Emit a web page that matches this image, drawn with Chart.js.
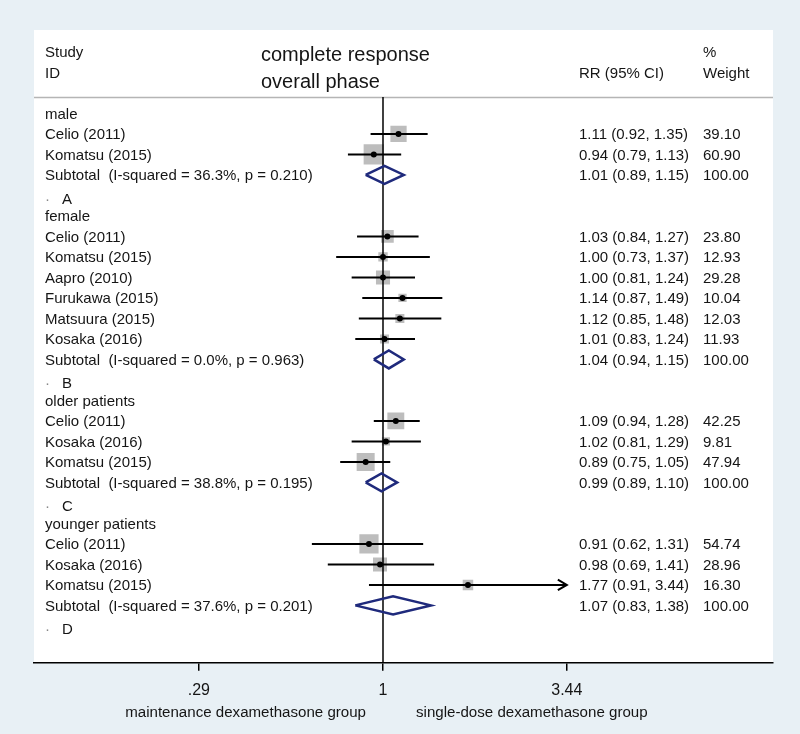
<!DOCTYPE html>
<html>
<head>
<meta charset="utf-8">
<title>Forest plot - complete response</title>
<script src="https://cdn.jsdelivr.net/npm/chart.js@4.4.0/dist/chart.umd.min.js"></script>
<style>
  html, body { margin: 0; padding: 0; background: #e8f0f5; }
  #wrap { width: 800px; height: 734px; }
</style>
</head>
<body>
<div id="wrap"><canvas id="forest" width="800" height="734"></canvas></div>
<script>
// --- Dados do gráfico ---
const rowLabels = [
  'male', 'Celio (2011)', 'Komatsu (2015)', 'Subtotal  (I-squared = 36.3%, p = 0.210)', 'A',
  'female', 'Celio (2011)', 'Komatsu (2015)', 'Aapro (2010)', 'Furukawa (2015)', 'Matsuura (2015)', 'Kosaka (2016)',
  'Subtotal  (I-squared = 0.0%, p = 0.963)', 'B',
  'older patients', 'Celio (2011)', 'Kosaka (2016)', 'Komatsu (2015)', 'Subtotal  (I-squared = 38.8%, p = 0.195)', 'C',
  'younger patients', 'Celio (2011)', 'Kosaka (2016)', 'Komatsu (2015)', 'Subtotal  (I-squared = 37.6%, p = 0.201)', 'D'
];
const rowKind = [
  'group', 'study', 'study', 'subtotal', 'tag',
  'group', 'study', 'study', 'study', 'study', 'study', 'study', 'subtotal', 'tag',
  'group', 'study', 'study', 'study', 'subtotal', 'tag',
  'group', 'study', 'study', 'study', 'subtotal', 'tag'
];
const rr = [
  null, 1.11, 0.94, 1.01, null,
  null, 1.03, 1.00, 1.00, 1.14, 1.12, 1.01, 1.04, null,
  null, 1.09, 1.02, 0.89, 0.99, null,
  null, 0.91, 0.98, 1.77, 1.07, null
];
const ciLow = [
  null, 0.92, 0.79, 0.89, null,
  null, 0.84, 0.73, 0.81, 0.87, 0.85, 0.83, 0.94, null,
  null, 0.94, 0.81, 0.75, 0.89, null,
  null, 0.62, 0.69, 0.91, 0.83, null
];
const ciHigh = [
  null, 1.35, 1.13, 1.15, null,
  null, 1.27, 1.37, 1.24, 1.49, 1.48, 1.24, 1.15, null,
  null, 1.28, 1.29, 1.05, 1.10, null,
  null, 1.31, 1.41, 3.44, 1.38, null
];
const weights = [
  null, 39.10, 60.90, 100.00, null,
  null, 23.80, 12.93, 29.28, 10.04, 12.03, 11.93, 100.00, null,
  null, 42.25, 9.81, 47.94, 100.00, null,
  null, 54.74, 28.96, 16.30, 100.00, null
];
const tickValues = [0.29, 1, 3.44];
const tickLabels = ['.29', '1', '3.44'];

// --- Aparência ---
const FONT = "'Liberation Sans', Arial, sans-serif";
const NARROW = "'Liberation Sans Narrow', 'Arial Narrow', 'Liberation Sans', Arial, sans-serif";
const TEXT = '#151515';
const SQUARE = '#bdbdbd';
const NAVY = '#1f2a7c';

// faixa do eixo log (0.29 -> x=198, 1 -> x=383, 3.44 -> x=566)
const X_MIN = 0.0958, X_MAX = 13.75;
const Y_MIN = -4.07, Y_MAX = 26.8;
const SEP_ROW = -0.8;
const TEXT_SHIFT = 1; // px, centra o texto na linha

// --- Montagem dos datasets ---
const dotData = [], squareData = [], squareRadius = [], ciData = [], diamondData = [], arrowData = [];
const gap = { x: null, y: null };
const arrowLimit = tickValues[tickValues.length - 1];
const arrowBack = Math.exp(-9 / 148.8);

rowKind.forEach((kind, i) => {
  if (kind === 'study') {
    dotData.push({ x: rr[i], y: i });
    squareData.push({ x: rr[i], y: i });
    squareRadius.push(2.6 * Math.sqrt(weights[i]) / Math.SQRT2);
    ciData.push({ x: ciLow[i], y: i }, { x: ciHigh[i], y: i }, gap);
    if (ciHigh[i] >= arrowLimit) {
      arrowData.push({ x: ciHigh[i] * arrowBack, y: i - 0.26 }, { x: ciHigh[i], y: i },
                     { x: ciHigh[i] * arrowBack, y: i + 0.26 }, gap);
    }
  } else if (kind === 'subtotal') {
    diamondData.push({ x: ciLow[i], y: i }, { x: rr[i], y: i - 0.44 }, { x: ciHigh[i], y: i },
                     { x: rr[i], y: i + 0.44 }, { x: ciLow[i], y: i }, gap);
  }
});

// --- Plugin: fundo, cabeçalho e colunas de texto ---
const forestFrame = {
  id: 'forestFrame',
  beforeDraw(chart) {
    const { ctx, chartArea: a, scales } = chart;
    ctx.save();
    ctx.fillStyle = '#e8f0f5';
    ctx.fillRect(0, 0, chart.width, chart.height);
    ctx.fillStyle = '#ffffff';
    ctx.fillRect(a.left, a.top, a.right - a.left, a.bottom - a.top);
    const ys = Math.round(scales.y.getPixelForValue(SEP_ROW)) + 0.5;
    ctx.strokeStyle = '#b5b5b5';
    ctx.lineWidth = 1.5;
    ctx.beginPath();
    ctx.moveTo(a.left, ys);
    ctx.lineTo(a.right, ys);
    ctx.stroke();
    ctx.restore();
  },
  afterDraw(chart) {
    const { ctx, scales } = chart;
    const x = scales.x;
    const rowY = (r) => scales.y.getPixelForValue(r) + TEXT_SHIFT;
    ctx.save();
    ctx.fillStyle = TEXT;
    ctx.textBaseline = 'middle';
    ctx.textAlign = 'left';

    // cabeçalho
    ctx.font = '15px ' + FONT;
    ctx.fillText('Study', 45, rowY(-3.0));
    ctx.fillText('ID', 45, rowY(-1.98));
    ctx.fillText('RR (95% CI)', 579, rowY(-1.98));
    ctx.fillText('%', 703, rowY(-3.0));
    ctx.fillText('Weight', 703, rowY(-1.98));
    ctx.font = '20px ' + FONT;
    ctx.fillText('complete response', 261, rowY(-2.88));
    ctx.fillText('overall phase', 261, rowY(-1.58));

    // linhas
    ctx.font = '15px ' + FONT;
    rowLabels.forEach((label, i) => {
      let py = rowY(i);
      if (rowKind[i] === 'tag') {
        py = rowY(i + 0.15);
        ctx.fillStyle = '#888888';
        ctx.fillText('·', 45, py);
        ctx.fillStyle = TEXT;
        ctx.fillText(label, 62, py);
        return;
      }
      ctx.fillText(label, 45, py);
      if (rr[i] !== null) {
        ctx.fillText(rr[i].toFixed(2) + ' (' + ciLow[i].toFixed(2) + ', ' + ciHigh[i].toFixed(2) + ')', 579, py);
        ctx.fillText(weights[i].toFixed(2), 703, py);
      }
    });

    // títulos do eixo x
    const px1 = x.getPixelForValue(1);
    const titleY = 713;
    const leftTitle = 'maintenance dexamethasone group';
    const rightTitle = 'single-dose dexamethasone group';
    ctx.font = '100px ' + NARROW;
    const size = 100 * 241 / ctx.measureText(leftTitle).width;
    ctx.font = size.toFixed(1) + 'px ' + NARROW;
    ctx.textAlign = 'right';
    ctx.fillText(leftTitle, px1 - 17, titleY);
    ctx.textAlign = 'left';
    ctx.fillText(rightTitle, px1 + 33, titleY);
    ctx.restore();
  }
};

// --- Gráfico ---
new Chart(document.getElementById('forest'), {
  type: 'scatter',
  data: {
    datasets: [
      { label: 'point', data: dotData, pointRadius: 3, pointBackgroundColor: '#000', pointBorderWidth: 0 },
      { label: 'pooled', data: diamondData, showLine: true, pointRadius: 0, borderColor: NAVY, borderWidth: 2.5, fill: false },
      { label: 'arrow', data: arrowData, showLine: true, pointRadius: 0, borderColor: '#000', borderWidth: 2 },
      { label: 'ci', data: ciData, showLine: true, pointRadius: 0, borderColor: '#000', borderWidth: 2 },
      { label: 'null', data: [{ x: 1, y: SEP_ROW }, { x: 1, y: Y_MAX }], showLine: true, pointRadius: 0, borderColor: '#000', borderWidth: 1.5 },
      { label: 'weight', data: squareData, pointStyle: 'rect', pointRadius: squareRadius, pointBackgroundColor: SQUARE, pointBorderWidth: 0 }
    ]
  },
  options: {
    responsive: false,
    animation: false,
    devicePixelRatio: 1,
    layout: { padding: { left: 34, right: 27, top: 30, bottom: 24 } },
    plugins: { legend: { display: false }, tooltip: { enabled: false } },
    scales: {
      x: {
        type: 'logarithmic',
        min: X_MIN,
        max: X_MAX,
        bounds: 'data',
        afterBuildTicks: (scale) => { scale.ticks = tickValues.map(v => ({ value: v })); },
        ticks: {
          autoSkip: false,
          maxRotation: 0,
          padding: 10,
          color: TEXT,
          font: { family: NARROW, size: 16 },
          callback: (value, index) => tickLabels[index]
        },
        grid: { drawOnChartArea: false, drawTicks: true, tickLength: 8, color: '#000', lineWidth: 1.5 },
        border: { color: '#000', width: 1.5 }
      },
      y: { type: 'linear', reverse: true, min: Y_MIN, max: Y_MAX, display: false }
    }
  },
  plugins: [forestFrame]
});
</script>
</body>
</html>
